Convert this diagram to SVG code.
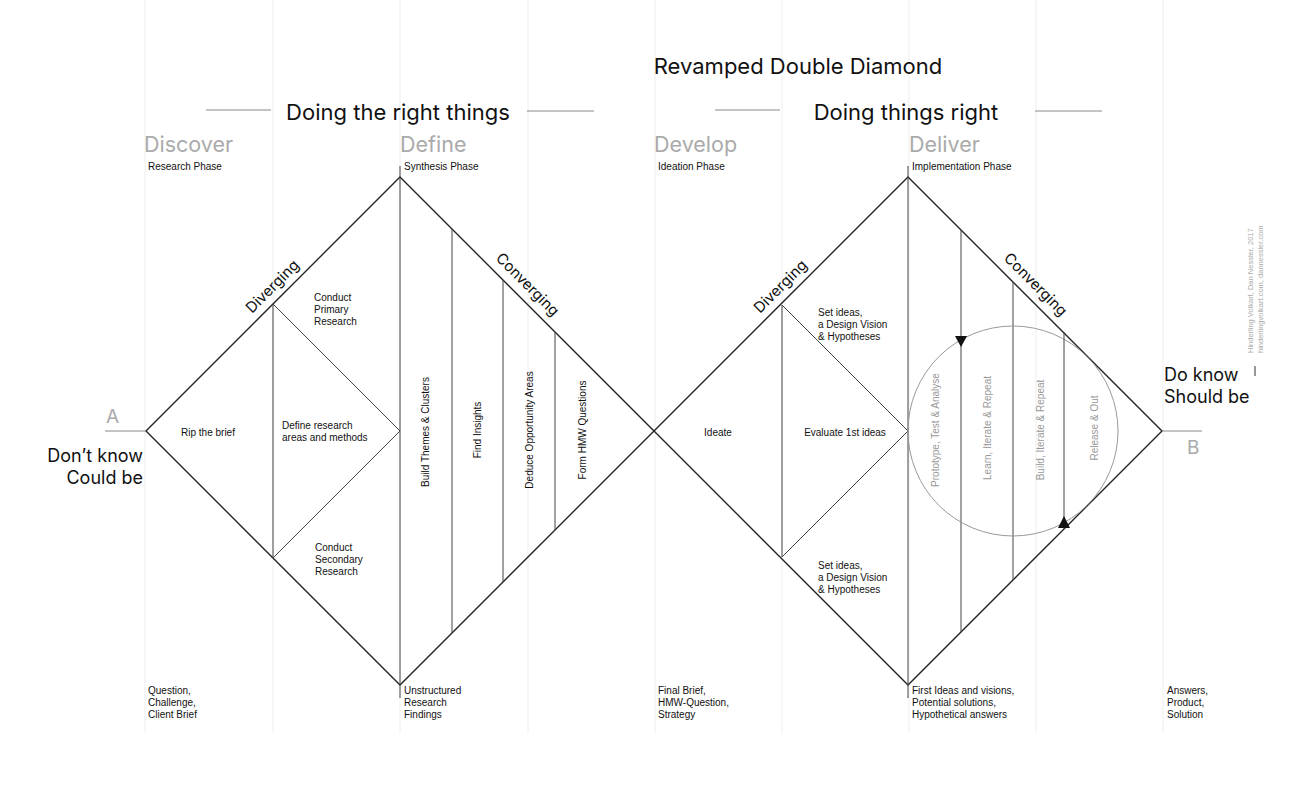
<svg xmlns="http://www.w3.org/2000/svg" width="1316" height="794" viewBox="0 0 1316 794">
<style>
text{font-family:"Liberation Sans",Arial,sans-serif;fill:#111}
.h{font-family:Inter,"Noto Sans",sans-serif;font-size:22px}
.e{font-family:Inter,"Noto Sans",sans-serif;font-size:18px}
.ph{font-family:Inter,"Noto Sans",sans-serif;font-size:21.5px;fill:#aaa}
.s{font-size:10px}
.g{fill:#999}
.grid{stroke:#eee;stroke-width:1}
.ln{stroke:#222;stroke-width:1.4;fill:none}
.thin{stroke:#444;stroke-width:1;fill:none}
.gl{stroke:#888;stroke-width:1}
.lab{font-family:Inter,"Noto Sans",sans-serif;font-size:15px}
</style>
<rect width="1316" height="794" fill="#fff"/>
<g id="grid">
<path class="grid" d="M145,0V733M273,0V733M400,0V733M528,0V733M655,0V733M782,0V733M909,0V733M1036,0V733M1163,0V733"/>
</g>
<g id="headers">
<text class="h" x="798" y="74" text-anchor="middle">Revamped Double Diamond</text>
<line class="gl" x1="206" y1="110" x2="271" y2="110"/><line class="gl" x1="527" y1="111" x2="594" y2="111"/>
<text class="h" x="398" y="120" text-anchor="middle">Doing the right things</text>
<line class="gl" x1="715" y1="110" x2="780" y2="110"/><line class="gl" x1="1035" y1="111" x2="1102" y2="111"/>
<text class="h" x="906" y="120" text-anchor="middle">Doing things right</text>
<text class="ph" x="144" y="152">Discover</text><text class="ph" x="400" y="152">Define</text>
<text class="ph" x="654" y="152">Develop</text><text class="ph" x="909" y="152">Deliver</text>
<text class="s" x="148" y="170">Research Phase</text><text class="s" x="404" y="170">Synthesis Phase</text>
<text class="s" x="658" y="170">Ideation Phase</text><text class="s" x="912" y="170">Implementation Phase</text>
</g>
<g id="bottom" class="s">
<text x="148" y="694">Question,<tspan x="148" dy="12">Challenge,</tspan><tspan x="148" dy="12">Client Brief</tspan></text>
<text x="404" y="694">Unstructured<tspan x="404" dy="12">Research</tspan><tspan x="404" dy="12">Findings</tspan></text>
<text x="658" y="694">Final Brief,<tspan x="658" dy="12">HMW-Question,</tspan><tspan x="658" dy="12">Strategy</tspan></text>
<text x="912" y="694">First Ideas and visions,<tspan x="912" dy="12">Potential solutions,</tspan><tspan x="912" dy="12">Hypothetical answers</tspan></text>
<text x="1167" y="694">Answers,<tspan x="1167" dy="12">Product,</tspan><tspan x="1167" dy="12">Solution</tspan></text>
</g>
<g id="endA">
<line class="gl" x1="105" y1="431" x2="145" y2="431"/>
<text class="ph" x="106" y="423" style="font-size:19px">A</text>
<text class="e" x="143" y="462" text-anchor="end">Don’t know</text>
<text class="e" x="143" y="484" text-anchor="end">Could be</text>
</g>
<g id="endB">
<line class="gl" x1="1163" y1="431" x2="1202" y2="431"/>
<text class="ph" x="1187" y="454" style="font-size:19px">B</text>
<text class="e" x="1164" y="381">Do know</text>
<text class="e" x="1164" y="403">Should be</text>
<line x1="1255" y1="366" x2="1255" y2="376" stroke="#333"/>
<text transform="translate(1253,353) rotate(-90)" style="font-size:7.5px;fill:#aaa">Hinderling Volkart, Dan Nessler, 2017</text>
<text transform="translate(1263,353) rotate(-90)" style="font-size:7.5px;fill:#aaa">hinderlingvolkart.com, dannessler.com</text>
</g>
<g id="diamond1">
<path class="ln" d="M146,431L400,177L654,431L400,685Z"/>
<line class="thin" x1="400" y1="166" x2="400" y2="698"/>
<path class="thin" d="M273,304V558M273,304L400,431L273,558M452,229V633M503,280V582M555,332V530"/>
<text class="lab" transform="translate(276,290) rotate(-45)" text-anchor="middle">Diverging</text>
<text class="lab" transform="translate(524,288) rotate(45)" text-anchor="middle">Converging</text>
<text class="s" x="208" y="436" text-anchor="middle">Rip the brief</text>
<text class="s" x="282" y="429">Define research<tspan x="282" dy="12">areas and methods</tspan></text>
<text class="s" x="314" y="301">Conduct<tspan x="314" dy="12">Primary</tspan><tspan x="314" dy="12">Research</tspan></text>
<text class="s" x="315" y="551">Conduct<tspan x="315" dy="12">Secondary</tspan><tspan x="315" dy="12">Research</tspan></text>
<text class="s" transform="translate(429,432) rotate(-90)" text-anchor="middle">Build Themes &amp; Clusters</text>
<text class="s" transform="translate(481,430) rotate(-90)" text-anchor="middle">Find Insights</text>
<text class="s" transform="translate(533,430) rotate(-90)" text-anchor="middle">Deduce Opportunity Areas</text>
<text class="s" transform="translate(586,430) rotate(-90)" text-anchor="middle">Form HMW Questions</text>
</g>
<g id="diamond2">
<path class="ln" d="M654,431L908,177L1162,431L908,685Z"/>
<line class="thin" x1="908" y1="166" x2="908" y2="698"/>
<path class="thin" d="M782,305V557M782,305L908,431L782,557M961,230V632M1013,282V580"/>
<text class="lab" transform="translate(784,290) rotate(-45)" text-anchor="middle">Diverging</text>
<text class="lab" transform="translate(1032,288) rotate(45)" text-anchor="middle">Converging</text>
<text class="s" x="718" y="436" text-anchor="middle">Ideate</text>
<text class="s" x="845" y="436" text-anchor="middle">Evaluate 1st ideas</text>
<text class="s" x="818" y="316">Set ideas,<tspan x="818" dy="12">a Design Vision</tspan><tspan x="818" dy="12">&amp; Hypotheses</tspan></text>
<text class="s" x="818" y="569">Set ideas,<tspan x="818" dy="12">a Design Vision</tspan><tspan x="818" dy="12">&amp; Hypotheses</tspan></text>
</g>
<g id="loop">
<circle cx="1013" cy="431" r="105" fill="none" stroke="#999" stroke-width="1"/>
<line class="thin" x1="1064" y1="332" x2="1064" y2="529"/>
<path d="M955,336H967L961,347Z" fill="#111"/>
<path d="M1058,528H1070L1064,516Z" fill="#111"/>
<text class="s g" transform="translate(939,430) rotate(-90)" text-anchor="middle">Prototype, Test &amp; Analyse</text>
<text class="s g" transform="translate(991,428) rotate(-90)" text-anchor="middle">Learn, Iterate &amp; Repeat</text>
<text class="s g" transform="translate(1044,430) rotate(-90)" text-anchor="middle">Build, Iterate &amp; Repeat</text>
<text class="s g" transform="translate(1098,428) rotate(-90)" text-anchor="middle">Release &amp; Out</text>
</g>
<g id="connectors"></g>
</svg>
